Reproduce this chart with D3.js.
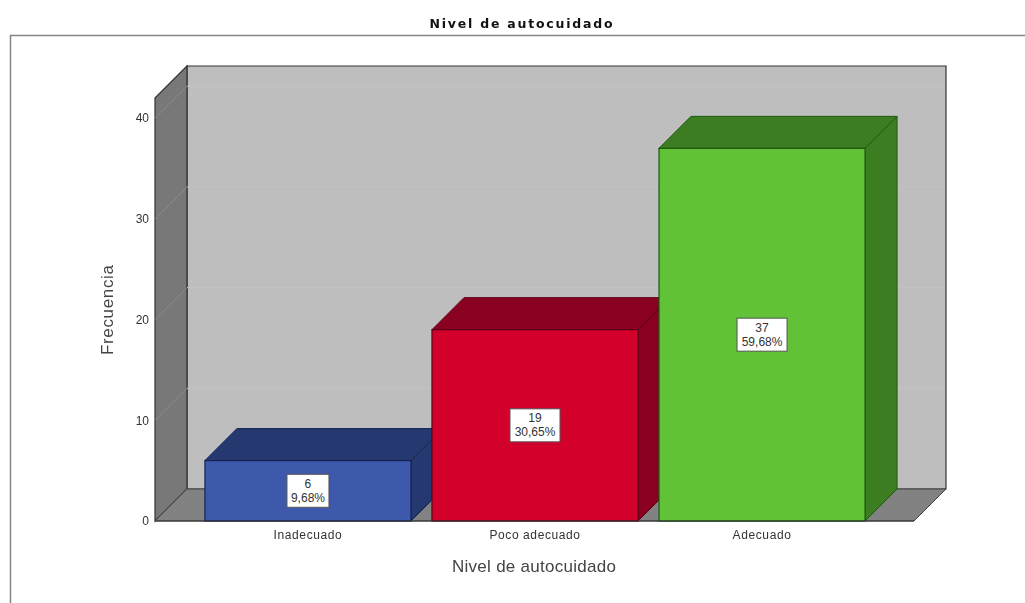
<!DOCTYPE html>
<html>
<head>
<meta charset="utf-8">
<script src="https://cdn.jsdelivr.net/npm/d3@7"></script>
<style>
  html, body { margin: 0; padding: 0; background: #fff; }
  svg { display: block; filter: blur(0.45px); }
  text { font-family: "Liberation Sans", Arial, sans-serif; }
</style>
</head>
<body>
<svg id="chart"></svg>
<script>
var categories = ["Inadecuado", "Poco adecuado", "Adecuado"];
var counts = [6, 19, 37];
var percents = ["9,68%", "30,65%", "59,68%"];
var yTicks = [0, 10, 20, 30, 40];
var faceColors = ["#3e58ac", "#d3002c", "#62c237"];
var sideColors = ["#263870", "#8a0020", "#3b7d20"];
var edgeColors = ["#14234f", "#5a0016", "#1c5a10"];

var width = 1025;
var height = 603;
var depth = 32; // offset of the back plane, same in x and y

var svg = d3.select("#chart").attr("width", width).attr("height", height);

var x = d3.scaleBand()
  .domain(categories)
  .range([194.5, 875.5])
  .paddingInner(0.0925)
  .paddingOuter(0.046);

var y = d3.scaleLinear()
  .domain([0, 42])
  .range([521, 98]);

var left = 155;
var right = 914;
var base = y(0);
var top3d = y.range()[1];

function poly(pts) { return pts.map(function(p) { return p.join(","); }).join(" "); }

// outer frame, open on the right and bottom like the original
svg.append("path")
  .attr("d", "M10.5,603V35.5H1025")
  .attr("fill", "none")
  .attr("stroke", "#858585")
  .attr("stroke-width", 1.5);

svg.append("text")
  .attr("x", 521).attr("y", 28)
  .attr("text-anchor", "middle")
  .attr("font-size", 12.5)
  .attr("font-weight", "bold")
  .attr("fill", "#111")
  .style("font-family", "'DejaVu Sans', sans-serif")
  .attr("textLength", 183)
  .attr("lengthAdjust", "spacing")
  .text("Nivel de autocuidado");

// walls and floor
var walls = svg.append("g");
walls.append("polygon")
  .attr("points", poly([[left + depth, top3d - depth], [right + depth, top3d - depth], [right + depth, base - depth], [left + depth, base - depth]]))
  .attr("fill", "#bebebe").attr("stroke", "#333").attr("stroke-width", 1.2);
walls.append("polygon")
  .attr("points", poly([[left, top3d], [left + depth, top3d - depth], [left + depth, base - depth], [left, base]]))
  .attr("fill", "#787878").attr("stroke", "#333").attr("stroke-width", 1.2);
walls.append("polygon")
  .attr("points", poly([[left, base], [left + depth, base - depth], [right + depth, base - depth], [right, base]]))
  .attr("fill", "#828282").attr("stroke", "#444").attr("stroke-width", 1);

// faint grid lines on the walls
var grid = svg.append("g").attr("fill", "none").attr("stroke-width", 1);
yTicks.filter(function(d) { return d > 0; }).forEach(function(d) {
  grid.append("line")
    .attr("x1", left).attr("y1", y(d))
    .attr("x2", left + depth).attr("y2", y(d) - depth)
    .attr("stroke", "#8a8a8a");
  grid.append("line")
    .attr("x1", left + depth).attr("y1", y(d) - depth)
    .attr("x2", right + depth - 1).attr("y2", y(d) - depth)
    .attr("stroke", "#c3c3c3");
});

// bars, left to right so the next bar covers the side of the previous one
var bars = svg.append("g").selectAll("g")
  .data(categories)
  .enter().append("g");

bars.append("polygon")
  .attr("points", function(d, i) {
    var x0 = x(d), x1 = x0 + x.bandwidth(), t = y(counts[i]);
    return poly([[x0, t], [x0 + depth, t - depth], [x1 + depth, t - depth], [x1, t]]);
  })
  .attr("fill", function(d, i) { return sideColors[i]; })
  .attr("stroke", function(d, i) { return edgeColors[i]; });

bars.append("polygon")
  .attr("points", function(d, i) {
    var x1 = x(d) + x.bandwidth(), t = y(counts[i]);
    return poly([[x1, t], [x1 + depth, t - depth], [x1 + depth, base - depth], [x1, base]]);
  })
  .attr("fill", function(d, i) { return sideColors[i]; })
  .attr("stroke", function(d, i) { return edgeColors[i]; });

bars.append("rect")
  .attr("x", function(d) { return x(d); })
  .attr("y", function(d, i) { return y(counts[i]); })
  .attr("width", x.bandwidth())
  .attr("height", function(d, i) { return base - y(counts[i]); })
  .attr("fill", function(d, i) { return faceColors[i]; })
  .attr("stroke", function(d, i) { return edgeColors[i]; })
  .attr("stroke-width", 1.2);

// value boxes in the middle of each bar front
var labels = bars.append("g")
  .attr("transform", function(d, i) {
    return "translate(" + (x(d) + x.bandwidth() / 2) + "," + ((y(counts[i]) + base) / 2) + ")";
  });

labels.append("rect")
  .attr("x", function(d, i) { return i == 0 ? -21 : -25; })
  .attr("y", -16.5)
  .attr("width", function(d, i) { return i == 0 ? 42 : 50; })
  .attr("height", 33)
  .attr("fill", "#fff")
  .attr("stroke", "#555")
  .attr("stroke-width", 1);

labels.append("text")
  .attr("text-anchor", "middle")
  .attr("y", -3)
  .attr("font-size", 12)
  .attr("fill", "#333")
  .text(function(d, i) { return counts[i]; });

labels.append("text")
  .attr("text-anchor", "middle")
  .attr("y", 11)
  .attr("font-size", 12)
  .attr("fill", "#333")
  .text(function(d, i) { return percents[i]; });

// axes
var yAxis = svg.append("g")
  .attr("transform", "translate(" + left + ",0)")
  .call(d3.axisLeft(y).tickValues(yTicks).tickSize(0).tickPadding(6));
yAxis.select(".domain").remove();
yAxis.selectAll("text").attr("font-size", 12).attr("font-family", null).attr("fill", "#333");

var xAxis = svg.append("g")
  .attr("transform", "translate(0," + base + ")")
  .call(d3.axisBottom(x).tickSize(0).tickPadding(9));
xAxis.select(".domain").remove();
xAxis.selectAll("text")
  .attr("font-size", 12)
  .attr("font-family", null)
  .attr("letter-spacing", 0.6)
  .attr("fill", "#333");

svg.append("line")
  .attr("x1", left).attr("x2", right)
  .attr("y1", base).attr("y2", base)
  .attr("stroke", "#333").attr("stroke-width", 1.2);

svg.append("text")
  .attr("x", 534).attr("y", 572)
  .attr("text-anchor", "middle")
  .attr("font-size", 17)
  .attr("fill", "#444")
  .attr("textLength", 164)
  .attr("lengthAdjust", "spacing")
  .text("Nivel de autocuidado");

svg.append("text")
  .attr("transform", "translate(113,310) rotate(-90)")
  .attr("text-anchor", "middle")
  .attr("font-size", 17)
  .attr("fill", "#444")
  .attr("textLength", 90)
  .attr("lengthAdjust", "spacing")
  .text("Frecuencia");
</script>
</body>
</html>
